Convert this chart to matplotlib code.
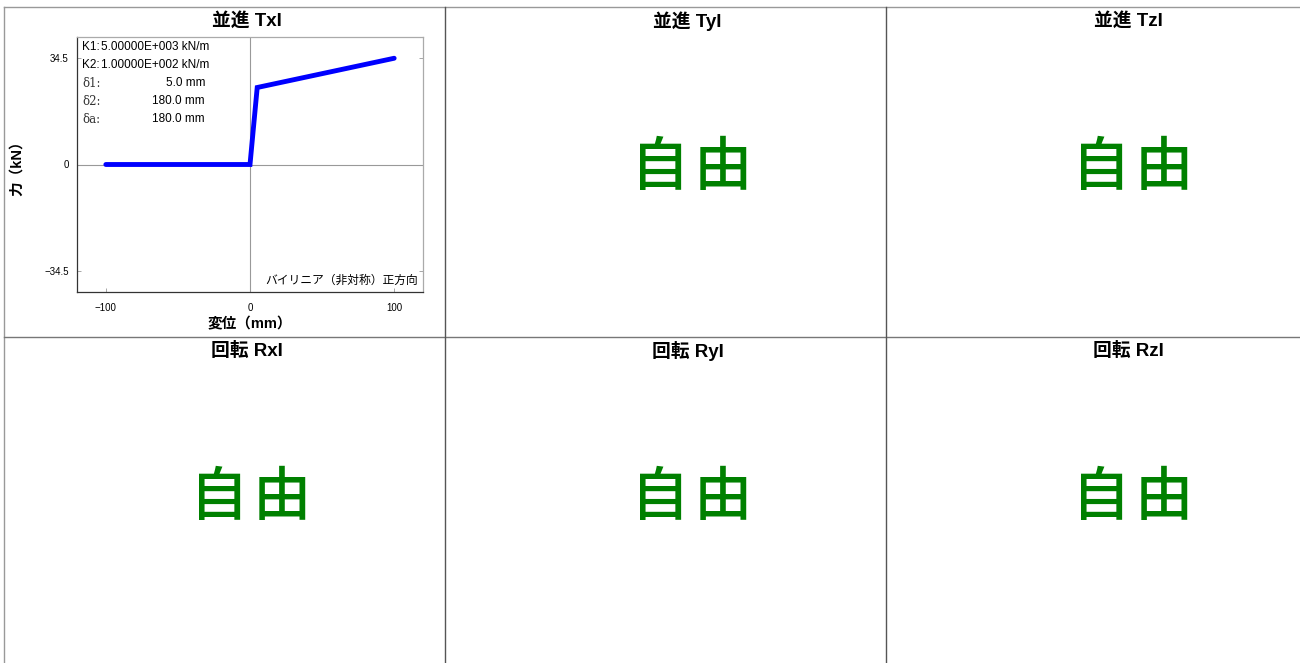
import matplotlib.pyplot as plt
from matplotlib.lines import Line2D

plt.rcParams['font.family'] = ['Liberation Sans', 'Noto Sans CJK JP', 'DejaVu Sans']

# bilinear spring curve (displacement mm, force kN)
disp = [-100, 0, 5, 100]
force = [0, 0, 25, 34.5]
xticks = [-100, 0, 100]
yticks = [-34.5, 0, 34.5]
ytick_labels = ['\u221234.5', '0', '34.5']
xtick_labels = ['\u2212100', '0', '100']

titles = ['並進 TxI', '並進 TyI', '並進 TzI', '回転 RxI', '回転 RyI', '回転 RzI']
params = [('K1:', '5.00000E+003 kN/m'), ('K2:', '1.00000E+002 kN/m'),
          ('δ1:', '5.0 mm'), ('δ2:', '180.0 mm'), ('δa:', '180.0 mm')]
curve_label = 'バイリニア（非対称）正方向'

W, H = 1300, 663
fig = plt.figure(figsize=(13, 6.63), dpi=100)

def fx(px):
    return px / W

def fy(py):
    return 1 - py / H

# panel grid lines
col_left = [4, 445, 886]
panel_w = 441
row_edges = [7, 337, 663]
fig.add_artist(Line2D([fx(4), fx(1300)], [fy(7), fy(7)], color='#999999', lw=1))
fig.add_artist(Line2D([fx(4), fx(4)], [fy(7), fy(663)], color='#999999', lw=1))
fig.add_artist(Line2D([fx(4), fx(1300)], [fy(337), fy(337)], color='#777777', lw=1))
for x in [445, 886]:
    fig.add_artist(Line2D([fx(x), fx(x)], [fy(7), fy(663)], color='#555555', lw=1))

for i, t in enumerate(titles):
    r, c = divmod(i, 3)
    cx = col_left[c] + panel_w / 2 + 22
    ty = row_edges[r] + 14
    fig.text(fx(cx), fy(ty), t, ha='center', va='center', fontsize=13.5,
             fontweight='bold')
    if i > 0:
        cy = row_edges[r] + 161
        fig.text(fx(cx - 27), fy(cy), '自', ha='center', va='center',
                 fontsize=42, fontweight='medium', color='#008000',
                 family='Noto Sans CJK JP')
        fig.text(fx(cx + 35), fy(cy), '由', ha='center', va='center',
                 fontsize=42, fontweight='medium', color='#008000',
                 family='Noto Sans CJK JP')

# force-displacement plot in first panel
ax = fig.add_axes([fx(77), fy(292), fx(423 - 77), (292 - 37) / H])
ax.plot(disp, force, color='#0000ff', lw=3.5, solid_capstyle='round',
        solid_joinstyle='miter', zorder=3)
ax.axhline(0, color='#999999', lw=0.8, zorder=1)
ax.axvline(0, color='#999999', lw=0.8, zorder=1)
ax.set_xlim(-120, 120)
ax.set_ylim(-41.4, 41.4)
ax.set_xticks(xticks)
ax.set_xticklabels(xtick_labels)
ax.set_yticks(yticks)
ax.set_yticklabels(ytick_labels)
ax.tick_params(labelsize=7, length=3, width=0.6, color='#999999',
               direction='in', right=True)
ax.tick_params(axis='x', pad=8)
ax.tick_params(axis='y', pad=6)
for side in ['left', 'bottom']:
    ax.spines[side].set_color('#333333')
for side in ['top', 'right']:
    ax.spines[side].set_color('#aaaaaa')
for s in ax.spines.values():
    s.set_linewidth(0.9)
ax.set_xlabel('変位（mm）', fontsize=10.5, fontweight='bold', labelpad=3)
ax.set_ylabel('力（kN）', fontsize=10.5, fontweight='bold', va='center')
ax.yaxis.set_label_coords(-0.173, 0.5)

for k, (name, val) in enumerate(params):
    y = 0.985 - k * 0.071
    if name.startswith('δ'):
        ax.text(0.015, y, name, transform=ax.transAxes, fontsize=8.5,
                va='top', ha='left', family=['DejaVu Serif', 'DejaVu Sans'],
                color='#333333')
    else:
        ax.text(0.015, y, name, transform=ax.transAxes, fontsize=8.5,
                va='top', ha='left')
    if k < 2:
        ax.text(0.068, y, val, transform=ax.transAxes, fontsize=8.5,
                va='top', ha='left')
    else:
        ax.text(0.37, y, val, transform=ax.transAxes, fontsize=8.5,
                va='top', ha='right')
ax.text(0.985, 0.02, curve_label, transform=ax.transAxes, fontsize=8.5,
        ha='right', va='bottom')

fig.savefig('out.png', dpi=100)
